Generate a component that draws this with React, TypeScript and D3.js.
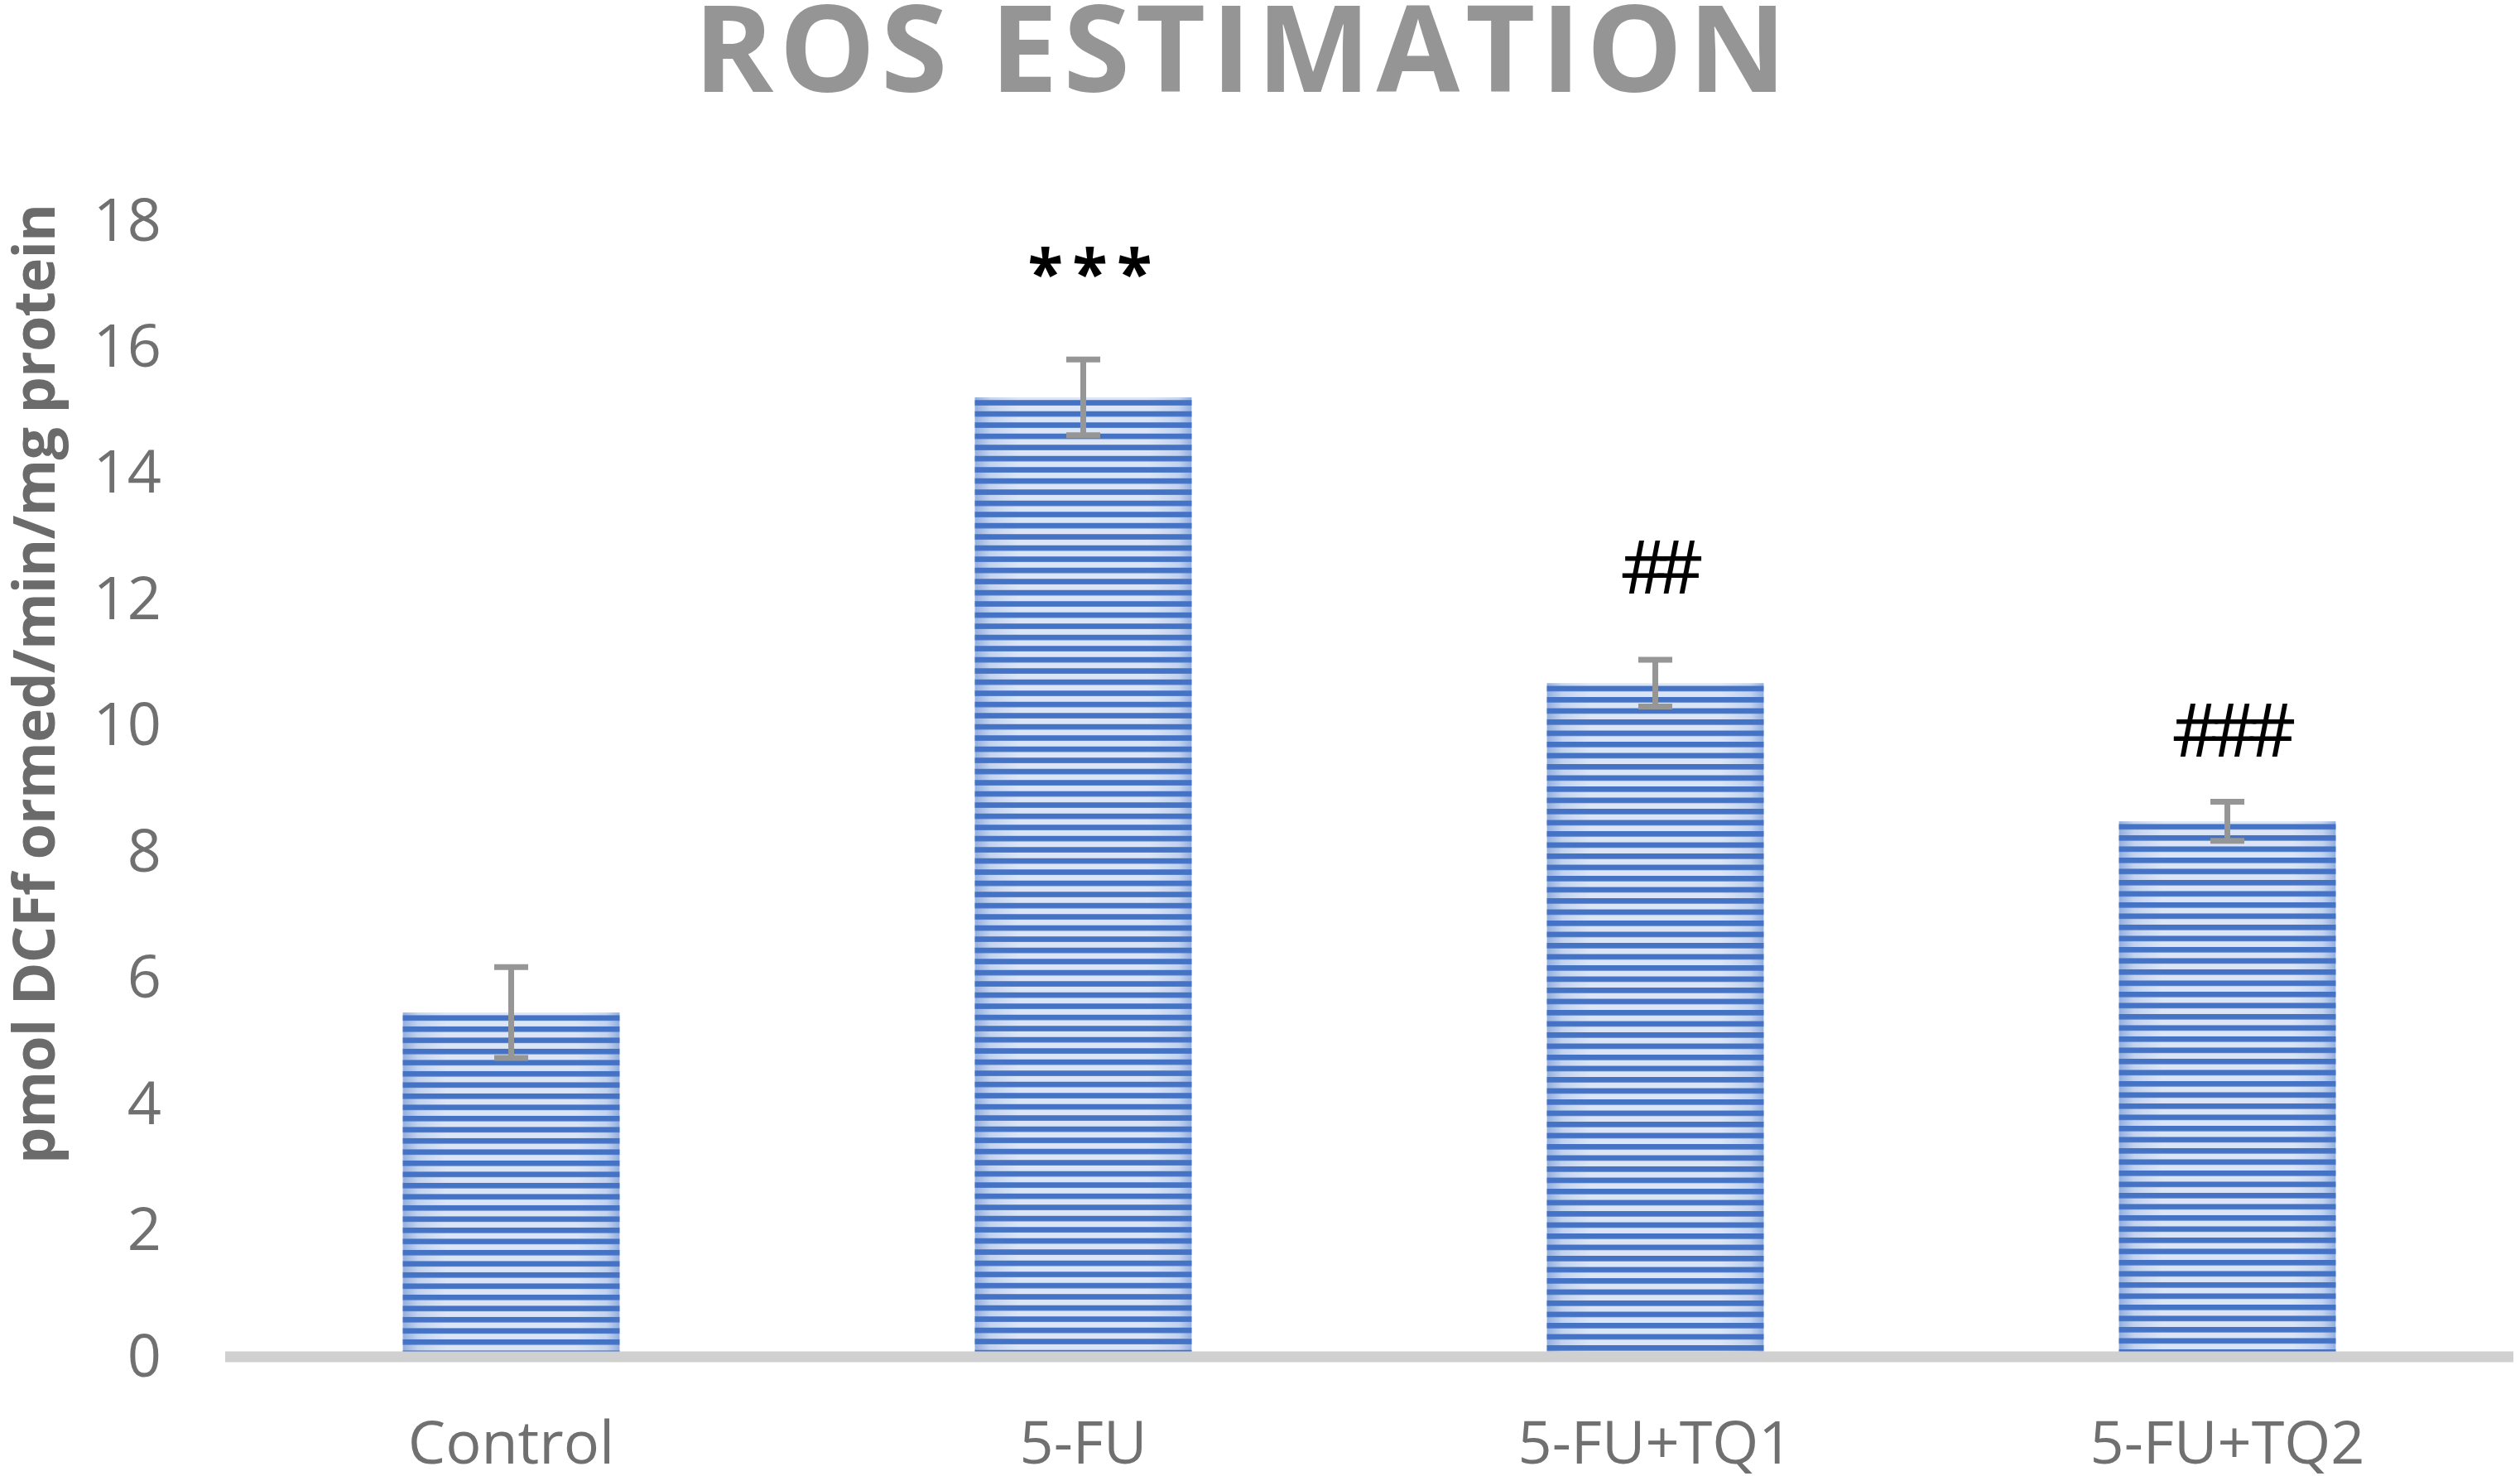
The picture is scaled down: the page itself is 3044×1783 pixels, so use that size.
import React from "react";
import * as d3 from "d3";

const categories = ["Control", "5-FU", "5-FU+TQ1", "5-FU+TQ2"];
const means = [5.43, 15.18, 10.65, 8.46];
const errors = [0.72, 0.6, 0.37, 0.31];
const annotations = ["", "***", "##", "###"];
const annotationLevels = [0, 17.3, 12.49, 9.91];
const yTicks = [0, 2, 4, 6, 8, 10, 12, 14, 16, 18];
const title = "ROS ESTIMATION";
const yTitle = "pmol DCFf ormed/min/mg protein";

const W = 3044;
const H = 1783;
const FONT = "'Open Sans', 'Noto Sans', sans-serif";

export default function App() {
  const x = d3
    .scaleBand<string>()
    .domain(categories)
    .range([272, 3036])
    .paddingInner(0.621)
    .paddingOuter(0.3105);
  const y = d3.scaleLinear().domain([0, 18]).range([1637, 265]);
  const bw = x.bandwidth();
  const period = 13.5;
  const dark = 6.6;

  return (
    <svg
      width={W}
      height={H}
      style={{ position: "absolute", left: 0, top: 0, background: "#fff" }}
    >
      <defs>
        <linearGradient id="lightGrad" x1="0" x2="1" y1="0" y2="0">
          <stop offset="0" stopColor="#93aedf" />
          <stop offset="0.07" stopColor="#c3d3ef" />
          <stop offset="0.2" stopColor="#dbe5f6" />
          <stop offset="0.8" stopColor="#dbe5f6" />
          <stop offset="0.94" stopColor="#c3d3ef" />
          <stop offset="1" stopColor="#93aedf" />
        </linearGradient>
        {categories.map((c, i) => (
          <pattern
            key={c}
            id={`stripes${i}`}
            patternUnits="userSpaceOnUse"
            x={0}
            y={y(means[i]) + 3.3}
            width={10}
            height={period}
          >
            <rect x={0} y={0} width={10} height={dark} fill="#4472c4" />
          </pattern>
        ))}
      </defs>

      <text
        x={1498}
        y={111}
        textAnchor="middle"
        fontFamily={FONT}
        fontWeight={700}
        fontSize={146}
        fill="#959595"
        textLength={1320}
        lengthAdjust="spacing"
      >
        {title}
      </text>

      <text
        transform={`translate(66, 826) rotate(-90)`}
        textAnchor="middle"
        fontFamily={FONT}
        fontWeight={700}
        fontSize={70}
        fill="#6b6b6b"
        textLength={1160}
        lengthAdjust="spacing"
      >
        {yTitle}
      </text>

      {yTicks.map((t) => (
        <text
          key={t}
          x={195}
          y={y(t) + 25.5}
          textAnchor="end"
          fontFamily={FONT}
          fontSize={72}
          fill="#707070"
        >
          {t}
        </text>
      ))}

      {categories.map((c, i) => {
        const x0 = x(c)!;
        const top = y(means[i]);
        return (
          <g key={c}>
            <rect
              x={x0}
              y={top}
              width={bw}
              height={y(0) - top}
              fill="url(#lightGrad)"
            />
            <rect
              x={x0}
              y={top}
              width={bw}
              height={y(0) - top}
              fill={`url(#stripes${i})`}
            />
          </g>
        );
      })}

      <line
        x1={272}
        x2={3036}
        y1={1639}
        y2={1639}
        stroke="#d0d0d0"
        strokeWidth={13}
      />

      {categories.map((c, i) => {
        const cx = x(c)! + bw / 2;
        const hi = y(means[i] + errors[i]);
        const lo = y(means[i] - errors[i]);
        return (
          <g key={c} stroke="#969696" strokeWidth={7}>
            <line x1={cx} x2={cx} y1={hi} y2={lo} />
            <line x1={cx - 20.5} x2={cx + 20.5} y1={hi} y2={hi} />
            <line x1={cx - 20.5} x2={cx + 20.5} y1={lo} y2={lo} />
          </g>
        );
      })}

      {categories.map((c) => (
        <text
          key={c}
          x={x(c)! + bw / 2}
          y={1768}
          textAnchor="middle"
          fontFamily={FONT}
          fontSize={72}
          fill="#707070"
        >
          {c}
        </text>
      ))}

      {categories.map((c, i) => {
        const a = annotations[i];
        if (!a) return null;
        const cx = x(c)! + bw / 2 + 8;
        const isStar = a.startsWith("*");
        const fs = isStar ? 78 : 90;
        const base = isStar
          ? y(annotationLevels[i]) + 0.58 * fs - 6
          : y(annotationLevels[i]) + 0.357 * fs;
        return (
          <text
            key={c}
            x={cx}
            y={base}
            textAnchor="middle"
            fontFamily={FONT}
            fontWeight={isStar ? 700 : 400}
            fontSize={fs}
            fill="#000"
            textLength={a.length * 50}
            lengthAdjust="spacing"
          >
            {a}
          </text>
        );
      })}
    </svg>
  );
}
